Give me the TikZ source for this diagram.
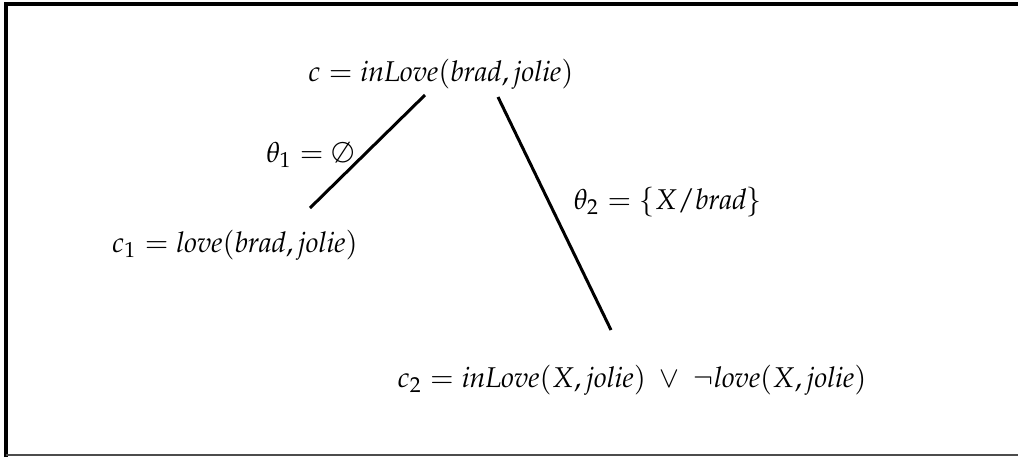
\documentclass[tikz,border=0pt]{standalone}
\usepackage{mathpazo}
\begin{document}
\begin{tikzpicture}[x=0.35pt,y=0.35pt,
  lbl/.style={inner sep=0pt,anchor=center},
  edge/.style={line width=1.05pt,line cap=butt},
  frameline/.style={line width=1.1pt}]
\useasboundingbox (0,0) rectangle (1018,457);
% frame
\draw[frameline] (6,0) -- (6,453) -- (1018,453);
\draw[line width=0.5pt,black!70] (6,2) -- (1018,2);
% nodes
\node[lbl] (c) at (441,383) {$c = \mathit{inLove}(\mathit{brad},\mathit{jolie})$};
\node[lbl] (c1) at (235,212) {$c_1 = \mathit{love}(\mathit{brad},\mathit{jolie})$};
\node[lbl] (c2) at (632,77) {$c_2 = \mathit{inLove}(X,\mathit{jolie})\;\vee\;\neg\mathit{love}(X,\mathit{jolie})$};
\node[lbl] (t1) at (310,302) {$\theta_1 = \emptyset$};
\node[lbl] (t2) at (668,255) {$\theta_2 = \{X/\mathit{brad}\}$};
% connectors
\coordinate (a1) at (425,362);
\coordinate (b1) at (310,249);
\coordinate (a2) at (498,360);
\coordinate (b2) at (611,127);
\draw[edge] (a1) -- (b1);
\draw[edge] (a2) -- (b2);
\end{tikzpicture}
\end{document}
